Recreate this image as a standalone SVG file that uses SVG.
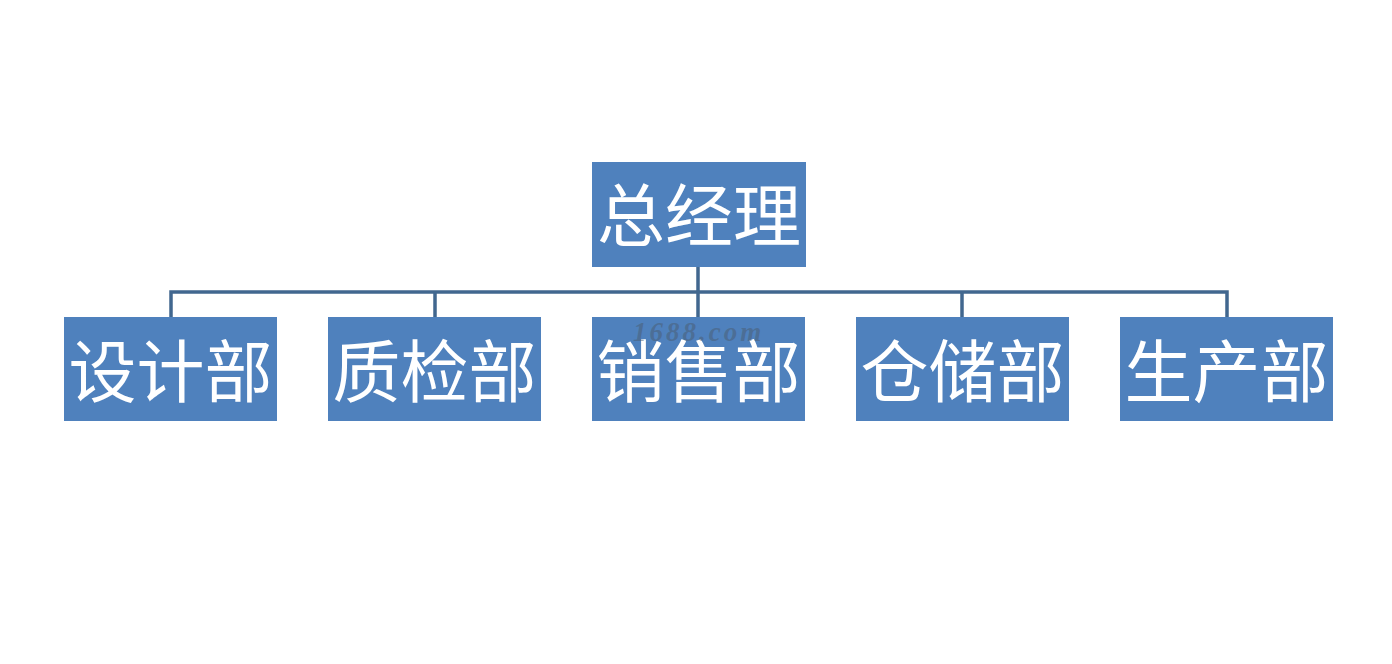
<svg xmlns="http://www.w3.org/2000/svg" width="1392" height="664" viewBox="0 0 1392 664">
<style>
.box{fill:#4F81BD;}
.lbl{font-family:"Noto Sans CJK SC","Noto Sans CJK JP",sans-serif;font-size:68px;fill:#FFFFFF;text-anchor:middle;dominant-baseline:central;}
.con{fill:none;stroke:#41678F;stroke-width:3.5;}
.wm{font-family:"Liberation Serif",serif;font-style:italic;font-weight:bold;font-size:27px;letter-spacing:3px;fill:#4A5C70;fill-opacity:0.5;}
</style>
<rect width="1392" height="664" fill="#FFFFFF"/>
<g id="connectors">
<path class="con" d="M698,267 V292 M171,317 V292 H1227 V317 M435,292 V317 M698,292 V317 M962,292 V317"/>
</g>
<g id="n0"><rect class="box" x="592" y="162" width="214" height="105"/><text class="lbl" x="699" y="211">总经理</text></g>
<g id="n1"><rect class="box" x="64" y="317" width="213" height="104"/><text class="lbl" x="170.5" y="367">设计部</text></g>
<g id="n2"><rect class="box" x="328" y="317" width="213" height="104"/><text class="lbl" x="434.5" y="367">质检部</text></g>
<g id="n3"><rect class="box" x="592" y="317" width="213" height="104"/><text class="lbl" x="698.5" y="367">销售部</text></g>
<g id="n4"><rect class="box" x="856" y="317" width="213" height="104"/><text class="lbl" x="962.5" y="367">仓储部</text></g>
<g id="n5"><rect class="box" x="1120" y="317" width="213" height="104"/><text class="lbl" x="1226.5" y="367">生产部</text></g>
<text class="wm" x="633" y="341">1688.com</text>
</svg>
